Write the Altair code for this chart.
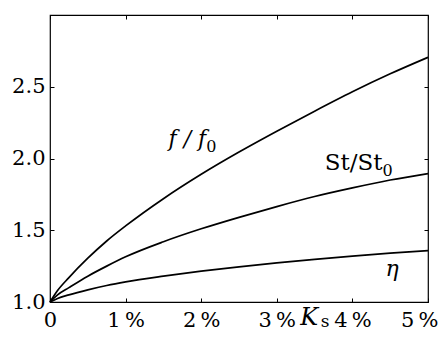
import altair as alt
import pandas as pd

# ---- data ----
ks = [0, 0.1, 0.25, 0.5, 0.75, 1, 1.5, 2, 2.5, 3, 3.5, 4, 4.5, 5]          # K_s in %
f_ratio = [1.0, 1.08, 1.17, 1.305, 1.425, 1.53, 1.72, 1.89, 2.045, 2.19, 2.33, 2.465, 2.59, 2.705]
st_ratio = [1.0, 1.05, 1.10, 1.18, 1.25, 1.315, 1.42, 1.51, 1.59, 1.665, 1.735, 1.795, 1.85, 1.895]
eta = [1.0, 1.025, 1.05, 1.085, 1.115, 1.14, 1.18, 1.215, 1.245, 1.272, 1.297, 1.32, 1.34, 1.358]

x_ticks = [0, 1, 2, 3, 4, 5]
y_ticks = [1.0, 1.5, 2.0, 2.5]

rows = []
for name, vals in [("f", f_ratio), ("St", st_ratio), ("eta", eta)]:
    for k, v in zip(ks, vals):
        rows.append({"K": k, "v": v, "series": name})
df = pd.DataFrame(rows)

FONT = "DejaVu Serif"
W, H = 378, 287

xs = alt.Scale(domain=[0, 5], nice=False, zero=False)
ys = alt.Scale(domain=[1, 3], nice=False, zero=False)

lines = alt.Chart(df).mark_line(color="black", strokeWidth=1.7, interpolate="monotone").encode(
    x=alt.X("K:Q", scale=xs,
            axis=alt.Axis(values=x_ticks, title=None, domain=False, grid=False,
                          tickSize=4, offset=-4, labelPadding=7,
                          labelAlign={"condition": {"test": "datum.value == 5", "value": "right"},
                                      "value": "center"},
                          labelOffset={"condition": {"test": "datum.value == 5", "value": 10},
                                       "value": 0},
                          labelExpr="datum.value == 0 ? '0' : datum.value + '\u2009%'")),
    y=alt.Y("v:Q", scale=ys,
            axis=alt.Axis(values=y_ticks, title=None, domain=False, grid=False,
                          tickSize=4, offset=-4, labelPadding=5, format=".1f")),
    detail="series:N",
)

frame_axes = alt.Chart(df).mark_line(opacity=0).encode(
    x=alt.X("K:Q", scale=xs,
            axis=alt.Axis(orient="top", values=x_ticks, title=None, domain=False, grid=False,
                          labels=False, tickSize=4, offset=-4)),
    y=alt.Y("v:Q", scale=ys,
            axis=alt.Axis(orient="right", values=y_ticks, title=None, domain=False, grid=False,
                          labels=False, tickSize=4, offset=-4)),
    detail="series:N",
)


def label(text, kx, vy, size=22, italic=False, align="left", dy=0):
    d = pd.DataFrame({"K": [kx], "v": [vy], "t": [text]})
    return alt.Chart(d).mark_text(
        font=FONT, fontSize=size, fontStyle="italic" if italic else "normal",
        align=align, baseline="alphabetic", dy=dy, color="black",
    ).encode(
        x=alt.X("K:Q", scale=xs, axis=None),
        y=alt.Y("v:Q", scale=ys, axis=None),
        text="t:N",
    )


annots = [
    label("f / f", 2.066, 2.086, size=22, italic=True, align="right"),
    label("0", 2.066, 2.086, size=16, align="left", dy=6),
    label("St/St", 4.397, 1.923, size=23, align="right"),
    label("0", 4.397, 1.923, size=16, align="left", dy=6),
    label("η", 4.525, 1.181, size=22, italic=True, align="center"),
    label("K", 3.31, 0.84, size=24, italic=True, align="left"),
    label("s", 3.58, 0.84, size=17, align="left", dy=2),
]

chart = alt.layer(lines, frame_axes, *annots).resolve_axis(
    x="independent", y="independent"
).properties(
    width=W, height=H,
    autosize=alt.AutoSizeParams(type="none"),
    padding={"left": 42, "top": 7, "right": 10, "bottom": 30},
    background="white",
).configure_view(
    stroke="black", strokeWidth=1.2
).configure_axis(
    labelFont=FONT, labelFontSize=21, labelColor="black",
    tickColor="black", tickWidth=1,
)

chart.save("out.html", embed_options={"renderer": "svg", "actions": False})
